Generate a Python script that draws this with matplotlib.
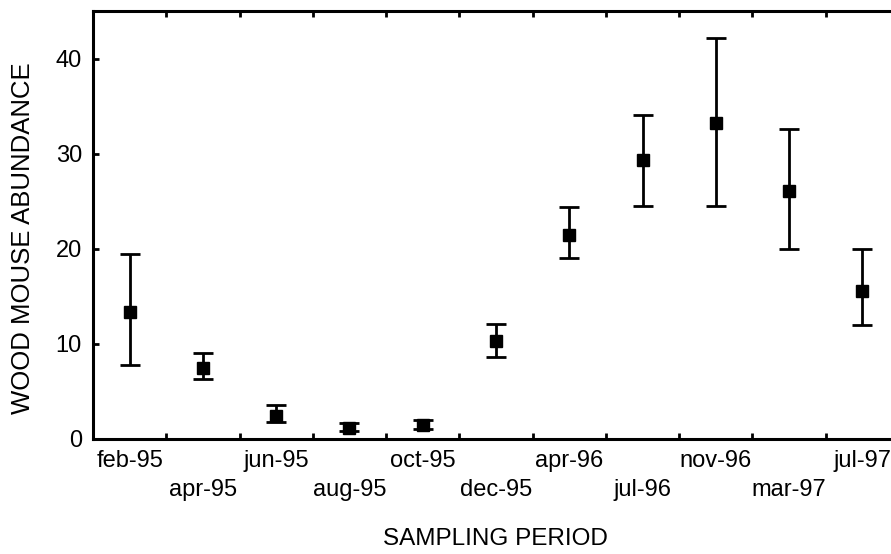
import matplotlib
matplotlib.use("Agg")
from matplotlib import pyplot as plt
import numpy as np

plt.rcParams["font.family"] = ["Liberation Sans", "DejaVu Sans"]

periods = ["feb-95", "apr-95", "jun-95", "aug-95", "oct-95", "dec-95",
           "apr-96", "jul-96", "nov-96", "mar-97", "jul-97"]
abundance = [13.4, 7.5, 2.4, 1.2, 1.5, 10.3, 21.4, 29.3, 33.2, 26.1, 15.6]
upper = [19.5, 9.0, 3.6, 1.7, 2.0, 12.1, 24.4, 34.1, 42.2, 32.6, 20.0]
lower = [7.8, 6.3, 1.8, 0.8, 1.0, 8.6, 19.0, 24.5, 24.5, 20.0, 12.0]
yticks = [0, 10, 20, 30, 40]


def plot_abundance():
    fig = plt.figure(figsize=(8.91, 5.54), dpi=100)
    ax = fig.add_axes([0.1044, 0.2076, 0.9046, 0.7726])

    x = np.arange(len(periods))
    y = np.array(abundance)
    yerr = [y - np.array(lower), np.array(upper) - y]
    ax.errorbar(x, y, yerr=yerr, fmt="s", color="black", ms=8.5,
                elinewidth=2, capsize=7.2, capthick=2)

    ax.set_xlim(-0.5, len(periods) - 0.5)
    ax.set_ylim(0, 45)

    # inward ticks at the category boundaries, labels under the points
    ax.set_xticks(x[:-1] + 0.5)
    ax.set_xticklabels([])
    labels = [p if i % 2 == 0 else "\n" + p for i, p in enumerate(periods)]
    ax.set_xticks(x, labels, minor=True)
    ax.tick_params(axis="x", which="minor", length=0, pad=8, labelsize=17)
    ax.tick_params(axis="x", which="major", direction="in", length=4,
                   width=2, top=True)
    ax.set_yticks(yticks)
    ax.tick_params(axis="y", direction="in", length=4, width=2,
                   pad=8, labelsize=17)
    for t in ax.get_xticklabels(minor=True):
        t.set_linespacing(1.4)

    for s in ax.spines.values():
        s.set_linewidth(2.2)

    fig.text(0.026, 0.57, "WOOD MOUSE ABUNDANCE", rotation=90,
             ha="center", va="center", fontsize=18.5)
    fig.text(0.556, 0.027, "SAMPLING PERIOD", ha="center", va="center",
             fontsize=17.5)

    fig.savefig("out.png", dpi=100)


plot_abundance()
